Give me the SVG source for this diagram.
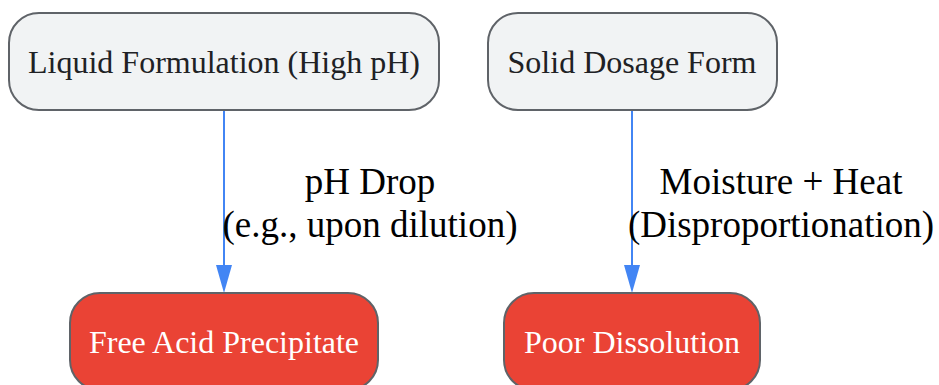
<svg xmlns="http://www.w3.org/2000/svg" width="939" height="385" viewBox="0 0 939 385">
<defs>
<style>
.n rect{stroke:#5f6368;stroke-width:2}
.top rect{fill:#f1f3f4}
.bot rect{fill:#ea4335}
.t{font-family:"Liberation Serif",serif;font-size:32px;text-anchor:middle}
.top .t{fill:#202124}
.bot .t{fill:#ffffff}
.e{stroke:#4285f4;stroke-width:2;fill:none}
.lbl{font-family:"Liberation Serif",serif;font-size:37px;text-anchor:middle;fill:#000}
</style>
</defs>
<g id="edges">
<path class="e" d="M224,110 L224,265"/>
<path d="M216,265 L232,265 L224,293 z" fill="#4285f4"/>
<path class="e" d="M632,110 L632,265"/>
<path d="M624,265 L640,265 L632,293 z" fill="#4285f4"/>
<text class="lbl" x="370" y="194">pH Drop</text>
<text class="lbl" x="370" y="237">(e.g., upon dilution)</text>
<text class="lbl" x="781" y="194">Moisture + Heat</text>
<text class="lbl" x="781" y="237">(Disproportionation)</text>
</g>
<g id="n1" class="n top">
<rect x="9" y="13" width="430" height="97" rx="30"/>
<text class="t" x="224" y="73">Liquid Formulation (High pH)</text>
</g>
<g id="n2" class="n top">
<rect x="488" y="13" width="289" height="97" rx="30"/>
<text class="t" x="632" y="73">Solid Dosage Form</text>
</g>
<g id="n3" class="n bot">
<rect x="70" y="293" width="308" height="97" rx="30"/>
<text class="t" x="224" y="353">Free Acid Precipitate</text>
</g>
<g id="n4" class="n bot">
<rect x="504" y="293" width="256" height="97" rx="30"/>
<text class="t" x="632" y="353">Poor Dissolution</text>
</g>
</svg>
